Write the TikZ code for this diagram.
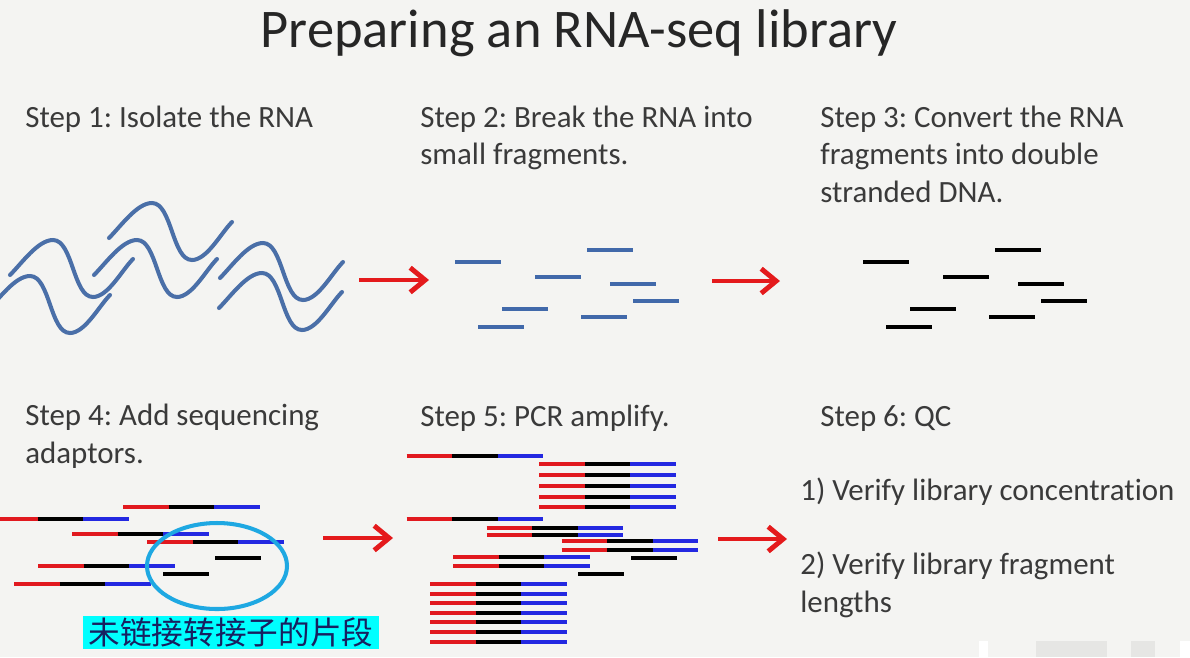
\documentclass[tikz,border=0pt]{standalone}
\usepackage{fontspec}
\setmainfont{Carlito}[Ligatures=NoCommon]
\newfontfamily\cjkfont{Noto Sans CJK SC}
\usetikzlibrary{arrows.meta}
\frenchspacing
\definecolor{slideBg}{HTML}{F4F4F2}
\definecolor{slideTitle}{HTML}{262626}
\definecolor{slideText}{HTML}{3A3A3A}
\definecolor{rnaBlue}{HTML}{4A6FA8}
\definecolor{fragBlue}{HTML}{4169AA}
\definecolor{adRed}{HTML}{E1191F}
\definecolor{adBlue}{HTML}{2328E1}
\definecolor{arrowRed}{HTML}{E41A1C}
\definecolor{ringBlue}{HTML}{1EA8E2}
\definecolor{noteCyan}{HTML}{00FFFF}
\definecolor{noteInk}{HTML}{182060}
\definecolor{patchGray}{HTML}{E6E6E4}
\tikzset{
  slidefig/.style={x=0.02cm, y=-0.02cm},
  titletext/.style={font=\fontsize{31pt}{37pt}\selectfont, text=slideTitle,
    inner sep=0pt, anchor=base},
  % multi-line nodes sit on the baseline of their last line
  steptext/.style={font=\fontsize{17.6pt}{21.2pt}\selectfont, text=slideText,
    inner sep=0pt, anchor=base west, align=left},
  rnaline/.style={draw=rnaBlue, line width=2.3pt, line cap=round},
  rnafrag/.style={draw=fragBlue, line width=2.2pt},
  dnafrag/.style={draw=black, line width=2.2pt},
  adred/.style={draw=adRed, line width=2.2pt},
  adblack/.style={draw=black, line width=2.2pt},
  adblue/.style={draw=adBlue, line width=2.2pt},
  steparrow/.style={draw=arrowRed, line width=2.8pt,
    -{Straight Barb[length=8.5pt, width=14pt]}},
  unligring/.style={draw=ringBlue, line width=2.3pt},
  notelabel/.style={fill=noteCyan, text=noteInk,
    font=\cjkfont\fontsize{18pt}{20pt}\selectfont,
    minimum width=168.5pt, minimum height=18.8pt, inner sep=0pt},
}
% one RNA strand, starting point given in pixels
\newcommand{\rnawave}[2]{%
  \begin{scope}[shift={(#1,#2)}]
    \draw[rnaline] (0,0) .. controls (12,-12) and (28,-35) .. (43,-35)
      .. controls (63,-35) and (63,22) .. (83,22)
      .. controls (98,22) and (112,-5) .. (123,-16);
  \end{scope}}
\newcommand{\adfrag}[2]{%
  \draw[adred] (#1,#2) -- ++(45.5,0);
  \draw[adblack] (#1+45.5,#2) -- ++(45.5,0);
  \draw[adblue] (#1+91,#2) -- ++(45.5,0);}

\begin{document}
\begin{tikzpicture}[slidefig]
  \fill[slideBg] (0,0) rectangle (1190,657);
  \useasboundingbox (0,0) rectangle (1190,657);
  \fill[white] (979,641) rectangle (988,657);
  \fill[patchGray] (1036,641) rectangle (1107,657);
  \fill[patchGray] (1131,641) rectangle (1155,657);
  \fill[white] (1180,641) rectangle (1190,657);

  \node[titletext] (title) at (579,47) {Preparing an RNA-seq library};
  \node[steptext] (step1) at (25,127) {Step 1: Isolate the RNA};
  \node[steptext] (step2) at (420,164.5) {Step 2: Break the RNA into\\small fragments.};
  \node[steptext] (step3) at (820,202) {Step 3: Convert the RNA\\fragments into double\\stranded DNA.};
  \node[steptext] (step4) at (25,463) {Step 4: Add sequencing\\adaptors.};
  \node[steptext] (step5) at (420,426) {Step 5: PCR amplify.};
  \node[steptext] (step6) at (820,426) {Step 6: QC};
  \node[steptext] (qc1) at (800,500) {1) Verify library concentration};
  \node[steptext] (qc2) at (800,612) {2) Verify library fragment\\lengths};

  \rnawave{10}{275}
  \rnawave{-13}{311}
  \rnawave{109}{238}
  \rnawave{94}{275}
  \rnawave{220}{278}
  \rnawave{219}{308}

  \foreach \x/\y in {455/262, 587/250, 535/277, 610/284, 633/301, 502/309, 581/317, 478/327} {
    \draw[rnafrag] (\x,\y) -- ++(46,0);
    \draw[dnafrag] (\x+408,\y) -- ++(46,0);
  }

  \foreach \x/\y in {123/507, -8/519, 72/534, 147/542, 38/566, 14/584}
    {\adfrag{\x}{\y}}
  \foreach \x/\y in {215/558, 163/574}
    {\draw[adblack] (\x,\y) -- ++(45.5,0);}

  \foreach \x/\y in {406.7/456, 406.7/519, 486.7/527.7, 486.7/535, 561.7/541, 561.7/550, 453.3/557.3, 453.3/566}
    {\adfrag{\x}{\y}}
  \foreach \y in {464.3, 475, 485.7, 496.7, 507.3}
    {\adfrag{539.3}{\y}}
  \foreach \y in {584.3, 594, 603.3, 612.7, 622, 632, 641.7}
    {\adfrag{430}{\y}}
  \foreach \x/\y in {631/558, 578/574}
    {\draw[adblack] (\x,\y) -- ++(45.5,0);}

  \coordinate (arr1s) at (359,280);
  \coordinate (arr1e) at (429,280);
  \coordinate (arr2s) at (712,281);
  \coordinate (arr2e) at (780,281);
  \coordinate (arr3s) at (323,538);
  \coordinate (arr3e) at (393,538);
  \coordinate (arr4s) at (718,539);
  \coordinate (arr4e) at (787,539);
  \draw[steparrow] (arr1s) -- (arr1e);
  \draw[steparrow] (arr2s) -- (arr2e);
  \draw[steparrow] (arr3s) -- (arr3e);
  \draw[steparrow] (arr4s) -- (arr4e);

  \draw[unligring] (217,566) ellipse [x radius=70, y radius=43];
  \node[notelabel] (note) at (231,632.5) {未链接转接子的片段};
\end{tikzpicture}
\end{document}
